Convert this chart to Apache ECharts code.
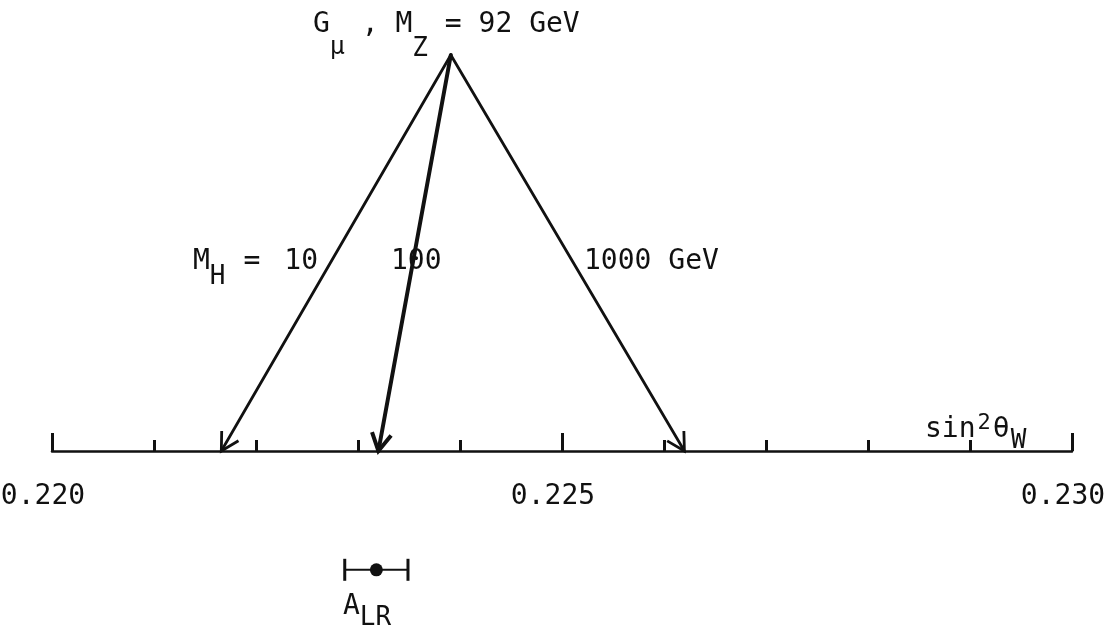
<!DOCTYPE html>
<html>
<head>
<meta charset="utf-8">
<script src="https://cdn.jsdelivr.net/npm/echarts@6/dist/echarts.min.js"></script>
<style>
  html, body { margin: 0; padding: 0; background: #ffffff; }
  #chart { width: 1106px; height: 632px; }
</style>
</head>
<body>
<div id="chart"></div>
<script>
// sin^2(theta_W) predicted from G_mu and M_Z = 92 GeV for three Higgs masses
const higgsMassLabels = ['10', '100', '1000 GeV'];
const sin2ThetaPredicted = [0.22166, 0.22320, 0.22620];
// common starting point of the arrows (G_mu, M_Z input), [sin2, height]
const inputPoint = [0.22391, 1];
// A_LR measurement: central value and error
const alrCentral = [0.22318];
const alrError = [0.00031];
// axis range and labelled ticks
const axisRange = [0.220, 0.230];
const tickLabels = ['0.220', '0.225', '0.230'];

const FONT = "'DejaVu Sans Mono', monospace";
const INK = '#111111';
const ALR_ROW = -0.30;
const FS = 28;

const chart = echarts.init(document.getElementById('chart'), null, { renderer: 'canvas' });

// measure text widths with the same font the chart uses
const measureCtx = document.createElement('canvas').getContext('2d');
function textWidth(str, size) {
  measureCtx.font = size + 'px ' + FONT;
  return measureCtx.measureText(str).width;
}

// a line of text whose pieces may be lowered (subscript) or raised (superscript)
function formula(x, y, pieces) {
  const children = [];
  let cx = 0;
  pieces.forEach(function (p) {
    const size = p.size || FS;
    cx += p.gap || 0;
    children.push({
      type: 'text',
      x: cx,
      y: p.dy || 0,
      silent: true,
      style: { text: p.t, fill: INK, font: size + 'px ' + FONT, verticalAlign: 'top' }
    });
    cx += textWidth(p.t, size);
  });
  return { type: 'group', x: x, y: y, silent: true, children: children };
}

const option = {
  backgroundColor: '#ffffff',
  animation: false,
  grid: { left: 52, right: 34, top: 55, bottom: 181, containLabel: false, outerBoundsMode: 'none' },
  xAxis: {
    type: 'value',
    min: axisRange[0],
    max: axisRange[1],
    interval: 0.005,
    axisLine: { show: true, onZero: false, lineStyle: { color: INK, width: 2.5 } },
    axisTick: { show: true, inside: true, length: 18, lineStyle: { color: INK, width: 3 } },
    minorTick: { show: true, splitNumber: 5, length: 11, lineStyle: { color: INK, width: 3 } },
    splitLine: { show: false },
    minorSplitLine: { show: false },
    axisLabel: {
      show: true,
      margin: 32,
      color: INK,
      fontFamily: FONT,
      fontSize: FS,
      padding: [0, 18, 0, 0],
      formatter: function (value) {
        for (let i = 0; i < tickLabels.length; i++) {
          if (Math.abs(parseFloat(tickLabels[i]) - value) < 1e-7) return tickLabels[i];
        }
        return '';
      }
    }
  },
  yAxis: {
    type: 'value',
    show: false,
    min: 0,
    max: 1
  },
  series: [
    {
      // arrows from the input point down to the predicted sin^2 values
      type: 'custom',
      coordinateSystem: 'cartesian2d',
      silent: true,
      clip: false,
      data: sin2ThetaPredicted.map(function (v) { return [inputPoint[0], inputPoint[1], v, 0]; }),
      encode: { x: [0, 2], y: [1, 3] },
      renderItem: function (params, api) {
        const a = api.coord([api.value(0), api.value(1)]);
        const b = api.coord([api.value(2), api.value(3)]);
        const w = params.dataIndex === 1 ? 4 : 2.8;
        const ang = Math.atan2(a[1] - b[1], a[0] - b[0]);
        const len = 20;
        const spread = 29 * Math.PI / 180;
        const p1 = [b[0] + len * Math.cos(ang + spread), b[1] + len * Math.sin(ang + spread)];
        const p2 = [b[0] + len * Math.cos(ang - spread), b[1] + len * Math.sin(ang - spread)];
        return {
          type: 'group',
          children: [
            { type: 'line', shape: { x1: a[0], y1: a[1], x2: b[0], y2: b[1] }, style: { stroke: INK, lineWidth: w, lineCap: 'round' } },
            { type: 'polyline', shape: { points: [p1, b, p2] }, style: { stroke: INK, lineWidth: w, fill: null } }
          ]
        };
      }
    },
    {
      // A_LR measurement with its error bar, below the axis
      type: 'custom',
      coordinateSystem: 'cartesian2d',
      silent: true,
      clip: false,
      data: alrCentral.map(function (v, i) { return [v, v - alrError[i], v + alrError[i], ALR_ROW]; }),
      encode: { x: [0, 1, 2], y: 3 },
      renderItem: function (params, api) {
        const c = api.coord([api.value(0), api.value(3)]);
        const lo = api.coord([api.value(1), api.value(3)]);
        const hi = api.coord([api.value(2), api.value(3)]);
        const cap = 11;
        return {
          type: 'group',
          children: [
            { type: 'line', shape: { x1: lo[0], y1: lo[1], x2: hi[0], y2: hi[1] }, style: { stroke: INK, lineWidth: 2 } },
            { type: 'line', shape: { x1: lo[0], y1: lo[1] - cap, x2: lo[0], y2: lo[1] + cap }, style: { stroke: INK, lineWidth: 3 } },
            { type: 'line', shape: { x1: hi[0], y1: hi[1] - cap, x2: hi[0], y2: hi[1] + cap }, style: { stroke: INK, lineWidth: 3 } },
            { type: 'circle', shape: { cx: c[0], cy: c[1], r: 6.5 }, style: { fill: INK } }
          ]
        };
      }
    }
  ],
  graphic: [
    formula(313, 11, [{ t: 'G' }, { t: 'μ', dy: 24, size: 25 }, { t: ' , M' }, { t: 'Z', dy: 25, size: 26 }, { t: ' = 92 GeV' }]),
    formula(193, 248, [{ t: 'M' }, { t: 'H', dy: 16, size: 26 }, { t: '=', gap: 18 }, { t: higgsMassLabels[0], gap: 24 }]),
    formula(391, 248, [{ t: higgsMassLabels[1] }]),
    formula(584, 248, [{ t: higgsMassLabels[2] }]),
    formula(925, 416, [{ t: 'sin' }, { t: '2', dy: -4, size: 22, gap: 2 }, { t: 'θ', gap: 2 }, { t: 'W', dy: 12, size: 26, gap: 1 }]),
    formula(343, 593, [{ t: 'A' }, { t: 'LR', dy: 12, size: 26 }])
  ]
};

chart.setOption(option);
</script>
</body>
</html>
